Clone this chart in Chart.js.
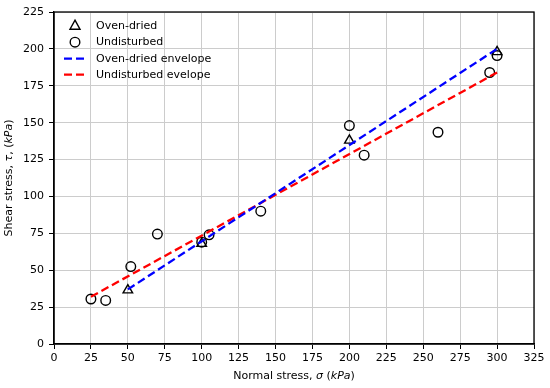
<!DOCTYPE html>
<html lang="en">
<head>
<meta charset="UTF-8">
<title>Shear stress vs normal stress</title>
<script src="https://cdn.jsdelivr.net/npm/chart.js"></script>
<style>
  body { margin: 0; background: #fff; }
  #wrap { position: relative; width: 550px; height: 388px; }
</style>
</head>
<body>
<div id="wrap"><canvas id="chart"></canvas></div>
<script>
// measured points (kPa)
const ovenX = [50, 100, 200, 300];
const ovenY = [36.5, 68, 138, 198];
const undistX = [25, 35, 52, 70, 100, 105, 140, 200, 210, 260, 295, 300];
const undistY = [30.5, 29.5, 52.5, 74.5, 69, 74, 90, 148, 128, 143.5, 184, 195.5];

// fitted envelopes (end points)
const ovenEnvX = [50, 300];
const ovenEnvY = [37, 200];
const undistEnvX = [25, 300];
const undistEnvY = [32, 184];

const xTicks = [0, 25, 50, 75, 100, 125, 150, 175, 200, 225, 250, 275, 300, 325];
const yTicks = [0, 25, 50, 75, 100, 125, 150, 175, 200, 225];

const FONT = 'DejaVu Sans';
const FS = 11;
const pts = (xs, ys) => xs.map((x, i) => ({ x: x, y: ys[i] }));

// draws text pieces (some italic) one after another
function drawRich(ctx, parts, size) {
    let total = 0;
    parts.forEach(p => {
        ctx.font = (p[1] ? 'italic ' : '') + size + 'px "' + FONT + '"';
        total += ctx.measureText(p[0]).width;
    });
    let x = -total / 2;
    parts.forEach(p => {
        ctx.font = (p[1] ? 'italic ' : '') + size + 'px "' + FONT + '"';
        ctx.fillText(p[0], x, 0);
        x += ctx.measureText(p[0]).width;
    });
}

const extras = {
    id: 'extras',
    afterDraw(chart) {
        const ctx = chart.ctx;
        const a = chart.chartArea;
        ctx.save();
        // frame on all four sides
        ctx.strokeStyle = '#000';
        ctx.lineWidth = 1.3;
        ctx.strokeRect(a.left, a.top, a.right - a.left, a.bottom - a.top);

        ctx.fillStyle = '#000';
        ctx.textBaseline = 'middle';
        ctx.textAlign = 'left';

        // axis titles
        ctx.save();
        ctx.translate((a.left + a.right) / 2, 376);
        drawRich(ctx, [['Normal stress, ', false], ['\u03c3', true], [' (', false], ['kPa', true], [')', false]], FS);
        ctx.restore();

        ctx.save();
        ctx.translate(9, (a.top + a.bottom) / 2);
        ctx.rotate(-Math.PI / 2);
        drawRich(ctx, [['Shear stress, ', false], ['\u03c4', true], [', (', false], ['kPa', true], [')', false]], FS);
        ctx.restore();

        // legend in the upper left corner
        const items = [
            { label: 'Oven-dried', kind: 'tri' },
            { label: 'Undisturbed', kind: 'circ' },
            { label: 'Oven-dried envelope', kind: 'line', color: '#0000ff' },
            { label: 'Undisturbed evelope', kind: 'line', color: '#ff0000' }
        ];
        const lx = 75, tx = 96;
        const rows = [25.7, 42.2, 58.7, 74.7];
        items.forEach((it, i) => {
            const y = rows[i];
            if (it.kind === 'line') {
                ctx.strokeStyle = it.color;
                ctx.lineWidth = 2.3;
                ctx.setLineDash([8, 4]);
                ctx.beginPath();
                ctx.moveTo(64, y);
                ctx.lineTo(88, y);
                ctx.stroke();
                ctx.setLineDash([]);
            } else {
                ctx.strokeStyle = '#000';
                ctx.lineWidth = 1.4;
                ctx.beginPath();
                if (it.kind === 'circ') {
                    ctx.arc(lx, y, 4.8, 0, Math.PI * 2);
                } else {
                    ctx.moveTo(lx, y - 5.5);
                    ctx.lineTo(lx + 5, y + 3.5);
                    ctx.lineTo(lx - 5, y + 3.5);
                    ctx.closePath();
                }
                ctx.stroke();
            }
            ctx.fillStyle = '#000';
            ctx.font = FS + 'px "' + FONT + '"';
            ctx.fillText(it.label, tx, y);
        });
        ctx.restore();
    }
};

new Chart(document.getElementById('chart'), {
    type: 'scatter',
    data: {
        datasets: [
            {
                label: 'Oven-dried envelope',
                data: pts(ovenEnvX, ovenEnvY),
                showLine: true,
                borderColor: '#0000ff',
                borderWidth: 2.3,
                borderDash: [8, 4],
                pointRadius: 0,
                fill: false
            },
            {
                label: 'Undisturbed evelope',
                data: pts(undistEnvX, undistEnvY),
                showLine: true,
                borderColor: '#ff0000',
                borderWidth: 2.3,
                borderDash: [8, 4],
                pointRadius: 0,
                fill: false
            },
            {
                label: 'Oven-dried',
                data: pts(ovenX, ovenY),
                pointStyle: 'triangle',
                pointRadius: 5.5,
                borderColor: '#000',
                backgroundColor: 'rgba(0,0,0,0)',
                pointBorderWidth: 1.4
            },
            {
                label: 'Undisturbed',
                data: pts(undistX, undistY),
                pointStyle: 'circle',
                pointRadius: 4.8,
                borderColor: '#000',
                backgroundColor: 'rgba(0,0,0,0)',
                pointBorderWidth: 1.4
            }
        ]
    },
    options: {
        responsive: true,
        maintainAspectRatio: false,
        animation: false,
        layout: { padding: { left: 0, right: 16, top: 12, bottom: 0 } },
        plugins: {
            legend: { display: false },
            tooltip: { enabled: false }
        },
        scales: {
            x: {
                type: 'linear',
                min: 0,
                max: 325,
                afterBuildTicks: s => { s.ticks = xTicks.map(v => ({ value: v })); },
                afterFit: s => { s.height = 44; },
                grid: { color: '#cccccc', tickColor: '#000', tickLength: 5, lineWidth: 1 },
                border: { color: '#000', width: 1.3 },
                ticks: { color: '#000', font: { family: FONT, size: FS }, padding: 3, maxRotation: 0 }
            },
            y: {
                type: 'linear',
                min: 0,
                max: 225,
                afterBuildTicks: s => { s.ticks = yTicks.map(v => ({ value: v })); },
                afterFit: s => { s.width = 54; },
                grid: { color: '#cccccc', tickColor: '#000', tickLength: 5, lineWidth: 1 },
                border: { color: '#000', width: 1.3 },
                ticks: { color: '#000', font: { family: FONT, size: FS }, padding: 5 }
            }
        }
    },
    plugins: [extras]
});
</script>
</body>
</html>
